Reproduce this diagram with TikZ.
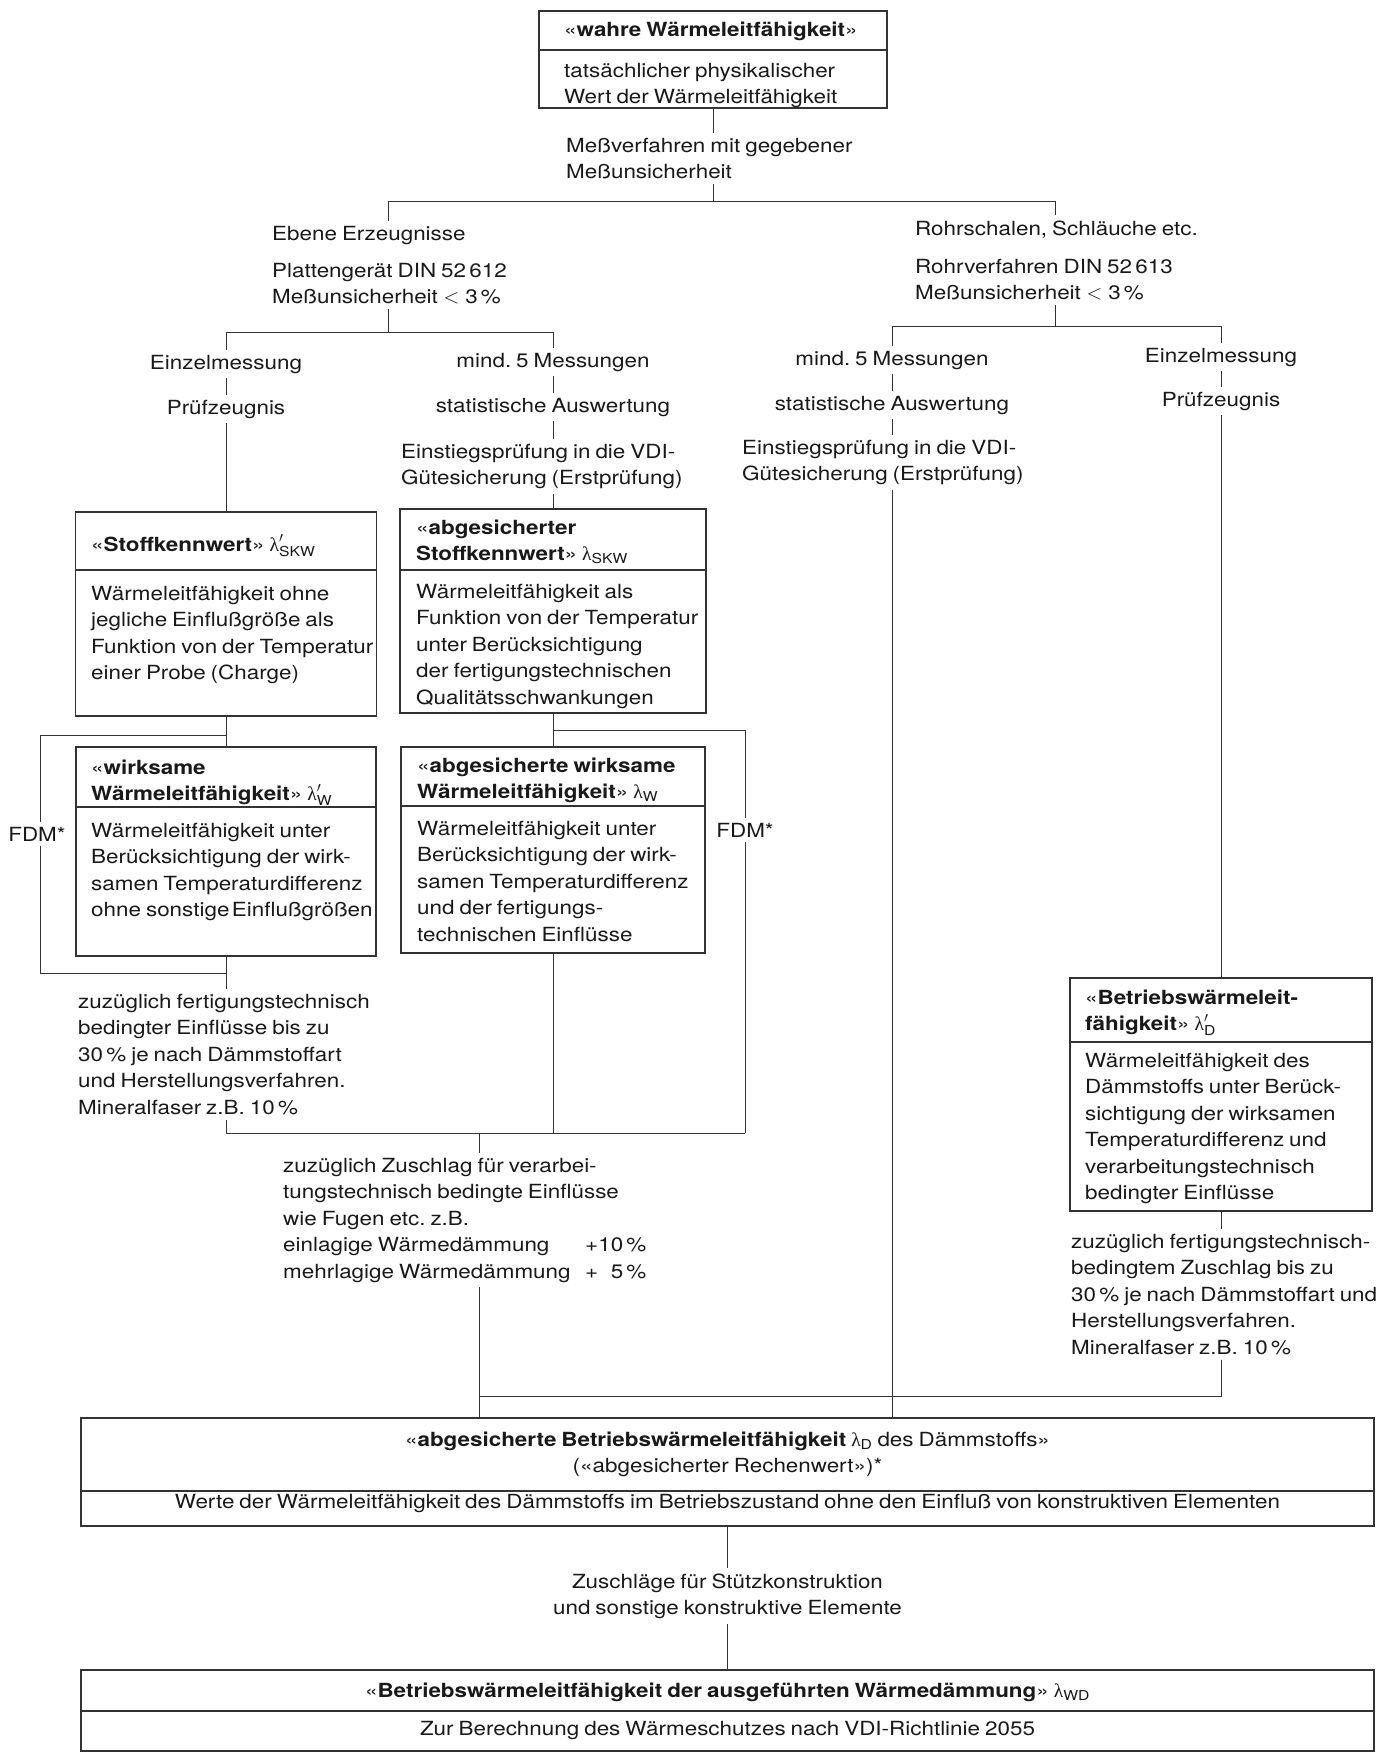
\documentclass[tikz,border=0pt]{standalone}
\usepackage{amsmath}
\usepackage{fontspec}
\setmainfont{TeX Gyre Heros}[FakeStretch=1.15, WordSpace=0.8]
\newfontfamily\lamf{Liberation Serif}
\newcommand\fs{\fontsize{19.5pt}{26.5pt}\selectfont\frenchspacing}
\newcommand\lam[2][]{${\text{\lamf λ}}#1_{\text{#2}}$}
\begin{document}
\begin{tikzpicture}[x=1pt,y=-1pt,
  box/.style={draw=black!80, line width=1.3pt, inner sep=0pt, outer sep=0pt},
  txt/.style={inner xsep=1pt, inner ysep=5pt, align=left, anchor=base west, font=\fs, text=black!90},
  ctxt/.style={inner xsep=1pt, inner ysep=5pt, align=center, anchor=base, font=\fs, text=black!90},
  ln/.style={draw=black!80, line width=1pt}]
\fill[white] (0,0) rectangle (1380,1753);
\useasboundingbox (0,0) rectangle (1380,1753);

% ---------- boxes ----------
\node[box, minimum width=348pt, minimum height=39pt]  (toph)  at (713,30.5) {};
\node[box, minimum width=348pt, minimum height=58pt]  (topb)  at (713,79) {};
\node[box, minimum width=301pt, minimum height=58pt]  (skwh)  at (226,541) {};
\node[box, minimum width=301pt, minimum height=146pt] (skwb)  at (226,643) {};
\node[box, minimum width=306pt, minimum height=61pt]  (askwh) at (553,539.5) {};
\node[box, minimum width=306pt, minimum height=143pt] (askwb) at (553,641.5) {};
\node[box, minimum width=300pt, minimum height=60pt]  (wh)    at (226,777) {};
\node[box, minimum width=300pt, minimum height=149pt] (wb)    at (226,881.5) {};
\node[box, minimum width=304pt, minimum height=59pt]  (awh)   at (553,776.5) {};
\node[box, minimum width=304pt, minimum height=147pt] (awb)   at (553,879.5) {};
\node[box, minimum width=302pt, minimum height=64pt]  (bdh)   at (1221,1010) {};
\node[box, minimum width=302pt, minimum height=169pt] (bdb)   at (1221,1126.5) {};
\node[box, minimum width=1293pt, minimum height=73pt] (abdh)  at (727.5,1454.5) {};
\node[box, minimum width=1293pt, minimum height=35pt] (abdb)  at (727.5,1508.5) {};
\node[box, minimum width=1293pt, minimum height=41pt] (wdh)   at (727.5,1690.5) {};
\node[box, minimum width=1293pt, minimum height=40pt] (wdb)   at (727.5,1731) {};

% ---------- box texts (anchor = baseline of the last line) ----------
\node[txt] (t1) at (563,37) {«\textbf{wahre Wärmeleitfähigkeit}»};
\node[txt] (t2) at (563,103.5) {tatsächlicher physikalischer\\Wert der Wärmeleitfähigkeit};
\node[txt] (skwt) at (90,551) {«\textbf{Stoffkennwert}» \lam[']{SKW}};
\node[txt] (skwx) at (90,679.5) {Wärmeleitfähigkeit ohne\\jegliche Einflußgröße als\\Funktion von der Temperatur\\einer Probe (Charge)};
\node[txt] (askwt) at (415,560.5) {«\textbf{abgesicherter}\\\textbf{Stoffkennwert}» \lam{SKW}};
\node[txt] (askwx) at (415,704) {Wärmeleitfähigkeit als\\Funktion von der Temperatur\\unter Berücksichtigung\\der fertigungstechnischen\\Qualitätsschwankungen};
\node[txt] (wt) at (90,800.5) {«\textbf{wirksame}\\\textbf{Wärmeleitfähigkeit}» \lam[']{W}};
\node[txt] (wx) at (90,916.5) {Wärmeleitfähigkeit unter\\Berücksichtigung der wirk-\\samen Temperaturdifferenz\\ohne sonstige\hspace{2.5pt}Einflußgrößen};
\node[txt] (awt) at (416,798.5) {«\textbf{abgesicherte wirksame}\\\textbf{Wärmeleitfähigkeit}» \lam{W}};
\node[txt] (awx) at (416,941) {Wärmeleitfähigkeit unter\\Berücksichtigung der wirk-\\samen Temperaturdifferenz\\und der fertigungs-\\technischen Einflüsse};
\node[txt] (bdt) at (1084,1030.5) {«\textbf{Betriebswärmeleit-}\\\textbf{fähigkeit}» \lam[']{D}};
\node[txt] (bdx) at (1084,1199.5) {Wärmeleitfähigkeit des\\Dämmstoffs unter Berück-\\sichtigung der wirksamen\\Temperaturdifferenz und\\verarbeitungstechnisch\\bedingter Einflüsse};
\node[ctxt] (abdt) at (727.5,1472.5) {«\textbf{abgesicherte Betriebswärmeleitfähigkeit} \lam{D} des Dämmstoffs»\\(«abgesicherter Rechenwert»)*};
\node[ctxt] (abdx) at (727.5,1508) {Werte der Wärmeleitfähigkeit des Dämmstoffs im Betriebszustand ohne den Einfluß von konstruktiven Elementen};
\node[ctxt] (wdt) at (727.5,1697) {«\textbf{Betriebswärmeleitfähigkeit der ausgeführten Wärmedämmung}» \lam{WD}};
\node[ctxt] (wdx) at (727.5,1735) {Zur Berechnung des Wärmeschutzes nach VDI-Richtlinie 2055};

% ---------- free texts ----------
\node[txt] (mv) at (565,178.5) {Meßverfahren mit gegebener\\Meßunsicherheit};
\node[txt] (eb) at (271,240) {Ebene Erzeugnisse};
\node[txt] (pg) at (271,303.5) {Plattengerät DIN 52\,612\\Meßunsicherheit${}<{}$3\,\%};
\node[txt] (rs) at (914,235) {Rohrschalen, Schläuche etc.};
\node[txt] (rv) at (914,299.5) {Rohrverfahren DIN 52\,613\\Meßunsicherheit${}<{}$3\,\%};
\node[ctxt] (em1) at (226,369) {Einzelmessung};
\node[ctxt] (pz1) at (226,414) {Prüfzeugnis};
\node[ctxt] (m51) at (553,367) {mind. 5 Messungen};
\node[ctxt] (st1) at (553,412) {statistische Auswertung};
\node[txt]  (es1) at (400,484.5) {Einstiegsprüfung in die VDI-\\Gütesicherung (Erstprüfung)};
\node[ctxt] (m52) at (892,365) {mind. 5 Messungen};
\node[ctxt] (st2) at (892,410) {statistische Auswertung};
\node[txt]  (es2) at (741,480.5) {Einstiegsprüfung in die VDI-\\Gütesicherung (Erstprüfung)};
\node[ctxt] (em2) at (1221,362) {Einzelmessung};
\node[ctxt] (pz2) at (1221,406) {Prüfzeugnis};
\node[ctxt] (fdmL) at (37,841) {FDM*};
\node[ctxt] (fdmR) at (745,837) {FDM*};
\node[txt] (zf) at (77,1114) {zuzüglich fertigungstechnisch\\bedingter Einflüsse bis zu\\30\,\% je nach Dämmstoffart\\und Herstellungsverfahren.\\Mineralfaser z.B. 10\,\%};
\node[txt] (zz) at (282,1278) {zuzüglich Zuschlag für verarbei-\\tungstechnisch bedingte Einflüsse\\wie Fugen etc. z.B.\\\makebox[302pt][l]{einlagige Wärmedämmung}+10\,\%\\\makebox[302pt][l]{mehrlagige Wärmedämmung}+\hphantom{1}5\,\%};
\node[txt] (zr) at (1070,1354) {zuzüglich fertigungstechnisch-\\bedingtem Zuschlag bis zu\\30\,\% je nach Dämmstoffart und\\Herstellungsverfahren.\\Mineralfaser z.B. 10\,\%};
\node[ctxt] (zs) at (727.5,1614.5) {Zuschläge für Stützkonstruktion\\und sonstige konstruktive Elemente};

% ---------- junctions ----------
\coordinate (j1)  at (713,201);
\coordinate (j1l) at (388,201);
\coordinate (j1r) at (1055,201);
\coordinate (j2)  at (388,332);
\coordinate (j2l) at (226,332);
\coordinate (j2r) at (553,332);
\coordinate (j3)  at (1055,326);
\coordinate (j3l) at (892,326);
\coordinate (j3r) at (1221,326);
\coordinate (a1)  at (226,735);
\coordinate (a1l) at (40,735);
\coordinate (a2)  at (226,973);
\coordinate (a2l) at (40,973);
\coordinate (a3)  at (226,1133);
\coordinate (b1)  at (553,730);
\coordinate (b1r) at (745,730);
\coordinate (b3)  at (745,1133);
\coordinate (jz)  at (479,1133);
\coordinate (j5l) at (479,1396);
\coordinate (j5r) at (1221,1396);

% ---------- connectors ----------
\draw[ln] (topb.south) -- (topb.south |- mv.north);
\draw[ln] (topb.south |- mv.south) -- (j1);
\draw[ln] (j1l) -- (j1r);
\draw[ln] (j1l) -- (j1l |- eb.north);
\draw[ln] (j1r) -- (j1r |- rs.north);
% left group
\draw[ln] (j2 |- pg.south) -- (j2);
\draw[ln] (j2l) -- (j2r);
\draw[ln] (j2l) -- (em1.north);
\draw[ln] (em1.south) -- (pz1.north);
\draw[ln] (pz1.south) -- (skwh.north);
\draw[ln] (j2r) -- (m51.north);
\draw[ln] (m51.south) -- (st1.north);
\draw[ln] (st1.south) -- (st1.south |- es1.north);
\draw[ln] (st1.south |- es1.south) -- (askwh.north);
% right group
\draw[ln] (j3 |- rv.south) -- (j3);
\draw[ln] (j3l) -- (j3r);
\draw[ln] (j3l) -- (m52.north);
\draw[ln] (m52.south) -- (st2.north);
\draw[ln] (st2.south) -- (st2.south |- es2.north);
\draw[ln] (st2.south |- es2.south) -- (st2.south |- abdh.north);
\draw[ln] (j3r) -- (em2.north);
\draw[ln] (em2.south) -- (pz2.north);
\draw[ln] (pz2.south) -- (bdh.north);
\draw[ln] (bdb.south) -- (bdb.south |- zr.north);
\draw[ln] (bdb.south |- zr.south) -- (j5r) -- (j5l);
% left FDM loop
\draw[ln] (skwb.south) -- (wh.north);
\draw[ln] (a1) -- (a1l) -- (a1l |- fdmL.north);
\draw[ln] (a1l |- fdmL.south) -- (a2l) -- (a2);
\draw[ln] (wb.south) -- (wb.south |- zf.north);
\draw[ln] (wb.south |- zf.south) -- (a3) -- (b3);
% right FDM loop
\draw[ln] (askwb.south) -- (awh.north);
\draw[ln] (b1) -- (b1r) -- (b1r |- fdmR.north);
\draw[ln] (b1r |- fdmR.south) -- (b3);
\draw[ln] (awb.south) -- (awb.south |- b3);
% to final boxes
\draw[ln] (jz) -- (jz |- zz.north);
\draw[ln] (jz |- zz.south) -- (jz |- abdh.north);
\draw[ln] (abdb.south) -- (abdb.south |- zs.north);
\draw[ln] (abdb.south |- zs.south) -- (wdh.north);
\end{tikzpicture}
\end{document}
